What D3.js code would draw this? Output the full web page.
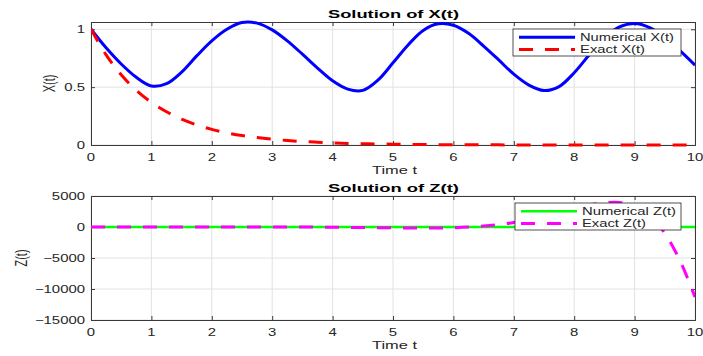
<!DOCTYPE html>
<html>
<head>
<meta charset="utf-8">
<script src="https://cdn.jsdelivr.net/npm/d3@7/dist/d3.min.js"></script>
<style>
  html, body { margin: 0; padding: 0; background: #fff; }
  svg { display: block; }
  text { font-family: "Liberation Sans", Arial, Helvetica, sans-serif; fill: #262626; }
</style>
</head>
<body>
<svg id="chart" width="703" height="356"></svg>
<script>
// ---------------- DATA ----------------
const timeSteps = [0, 0.25, 0.5, 0.75, 1, 1.25, 1.5, 1.75, 2, 2.25, 2.5, 2.75, 3, 3.25, 3.5, 3.75,
  4, 4.25, 4.5, 4.75, 5, 5.25, 5.5, 5.75, 6, 6.25, 6.5, 6.75, 7, 7.25, 7.5, 7.75,
  8, 8.25, 8.5, 8.75, 9, 9.25, 9.5, 9.75, 10];

const numericalX = [1.00, 0.84, 0.70, 0.585, 0.51, 0.53, 0.63, 0.77, 0.90, 1.00, 1.058, 1.053,
  0.995, 0.90, 0.785, 0.665, 0.555, 0.483, 0.472, 0.56, 0.71, 0.865, 0.99, 1.047, 1.035, 0.965,
  0.855, 0.735, 0.612, 0.518, 0.471, 0.505, 0.625, 0.78, 0.925, 1.02, 1.05, 1.015, 0.93, 0.815, 0.69];

const exactX = [1.00, 0.779, 0.607, 0.472, 0.368, 0.287, 0.223, 0.174, 0.135, 0.105, 0.082, 0.064,
  0.050, 0.039, 0.030, 0.024, 0.018, 0.014, 0.011, 0.009, 0.007, 0.005, 0.004, 0.003,
  0.0025, 0.002, 0.0015, 0.0012, 0.0009, 0.0007, 0.0006, 0.0004, 0.0003, 0.0003, 0.0002,
  0.0002, 0.0001, 0.0001, 0.0001, 0.0001, 0.0];

const numericalZ = [0, 0, 0, 0, 0, 0, 0, 0, 0, 0, 0, 0, 0, 0, 0, 0, 0, 0, 0, 0, 0,
  0, 0, 0, 0, 0, 0, 0, 0, 0, 0, 0, 0, 0, 0, 0, 0, 0, 0, 0, 0];

const exactZ = [0, 0.3, 0.8, 1.4, 2.3, 3.3, 4.5, 5.7, 6.7, 7.4, 7.3, 6.0, 2.8, -2.8, -11.6, -24.3,
  -41.3, -62.7, -88, -115.5, -142, -163.7, -173, -160, -113, -17, 143, 384, 720, 1159,
  1696, 2308, 2949, 3536, 3922, 3944, 3339, 1810, -1005, -5400, -11300];

const xTickValues = [0, 1, 2, 3, 4, 5, 6, 7, 8, 9, 10];
const xPlotYTicks = [0, 0.5, 1];
const zPlotYTicks = [-15000, -10000, -5000, 0, 5000];

const panelTitles = ["Solution of X(t)", "Solution of Z(t)"];
const xAxisLabel = "Time t";
const yAxisLabels = ["X(t)", "Z(t)"];
const legendLabelsX = ["Numerical X(t)", "Exact X(t)"];
const legendLabelsZ = ["Numerical Z(t)", "Exact Z(t)"];

// ---------------- LAYOUT ----------------
const svg = d3.select("#chart");
const SX = 1.42;          // horizontal text stretch of the reference
const FS = 10.5;
const left = 91, right = 695;
const dash = "14,12";

function stretchedText(g, str, x, y, anchor, opts = {}) {
  const t = g.append("text")
    .attr("transform", `translate(${x},${y}) scale(${SX},1)` + (opts.rotate ? " rotate(-90)" : ""))
    .attr("text-anchor", anchor)
    .style("font-size", (opts.size || FS) + "px")
    .text(str);
  return t;
}

function fmt(v) {
  const s = String(v);
  return s.replace("-", "\u2212");
}

function panel(cfg) {
  const g = svg.append("g");
  const x = d3.scaleLinear().domain([0, 10]).range([left, right]);
  const y = d3.scaleLinear().domain(cfg.yDomain).range([cfg.bottom, cfg.top]);

  // grid
  g.append("g").selectAll("line").data(xTickValues).join("line")
    .attr("x1", d => x(d)).attr("x2", d => x(d))
    .attr("y1", cfg.top).attr("y2", cfg.bottom)
    .attr("stroke", "#e2e2e2").attr("stroke-width", 1);
  g.append("g").selectAll("line").data(cfg.yTicks).join("line")
    .attr("x1", left).attr("x2", right)
    .attr("y1", d => y(d)).attr("y2", d => y(d))
    .attr("stroke", "#e2e2e2").attr("stroke-width", 1);

  // axes via d3 (inside ticks)
  const xAxisB = d3.axisBottom(x).tickValues(xTickValues).tickSize(-4).tickFormat("");
  const xAxisT = d3.axisTop(x).tickValues(xTickValues).tickSize(-4).tickFormat("");
  const yAxisL = d3.axisLeft(y).tickValues(cfg.yTicks).tickSize(-4).tickFormat("");
  const yAxisR = d3.axisRight(y).tickValues(cfg.yTicks).tickSize(-4).tickFormat("");
  [[xAxisB, `translate(0,${cfg.bottom})`], [xAxisT, `translate(0,${cfg.top})`],
   [yAxisL, `translate(${left},0)`], [yAxisR, `translate(${right},0)`]].forEach(([ax, tr]) => {
    const a = g.append("g").attr("transform", tr).call(ax);
    a.select(".domain").attr("stroke", "#3a3a3a").attr("stroke-width", 1);
    a.selectAll(".tick line").attr("stroke", "#3a3a3a");
  });

  // tick labels
  xTickValues.forEach(v => stretchedText(g, fmt(v), x(v), cfg.bottom + 16, "middle"));
  cfg.yTicks.forEach(v => stretchedText(g, fmt(v), left - 6, y(v) + 3.7, "end"));

  // lines
  const clipId = "clip" + cfg.id;
  svg.append("clipPath").attr("id", clipId).append("rect")
    .attr("x", left).attr("y", cfg.top - 2).attr("width", right - left).attr("height", cfg.bottom - cfg.top + 4);
  const line = d3.line().x((d, i) => x(timeSteps[i])).y(d => y(d)).curve(d3.curveCatmullRom);
  const lg = g.append("g").attr("clip-path", `url(#${clipId})`);
  lg.append("path").attr("d", line(cfg.series1)).attr("fill", "none")
    .attr("stroke", cfg.color1).attr("stroke-width", cfg.w1);
  lg.append("path").attr("d", line(cfg.series2)).attr("fill", "none")
    .attr("stroke", cfg.color2).attr("stroke-width", 3).attr("stroke-dasharray", dash);

  // title and labels
  g.append("text").attr("x", 393.5).attr("y", cfg.top - 3.7)
    .attr("text-anchor", "middle").style("font-size", "10.7px").style("font-weight", "bold")
    .style("fill", "#000")
    .attr("textLength", 131).attr("lengthAdjust", "spacingAndGlyphs")
    .text(cfg.title);
  g.append("text").attr("x", 394.5).attr("y", cfg.bottom + 29)
    .attr("text-anchor", "middle").style("font-size", "10.5px")
    .attr("textLength", 45).attr("lengthAdjust", "spacingAndGlyphs")
    .text(xAxisLabel);
  stretchedText(g, cfg.ylabel, cfg.ylabelX, (cfg.top + cfg.bottom) / 2, "middle", { rotate: true, size: 11 });

  // legend
  const lgd = g.append("g");
  lgd.append("rect").attr("x", cfg.legX).attr("y", cfg.legY).attr("width", 681 - cfg.legX).attr("height", 27)
    .attr("fill", "#fff").attr("stroke", "#262626").attr("stroke-width", 0.8);
  const rows = [cfg.legY + 8.3, cfg.legY + 20.6];
  lgd.append("line").attr("x1", cfg.legX + 6).attr("x2", cfg.legX + 62).attr("y1", rows[0]).attr("y2", rows[0])
    .attr("stroke", cfg.color1).attr("stroke-width", cfg.w1);
  lgd.append("line").attr("x1", cfg.legX + 6).attr("x2", cfg.legX + 62).attr("y1", rows[1]).attr("y2", rows[1])
    .attr("stroke", cfg.color2).attr("stroke-width", 3).attr("stroke-dasharray", dash);
  [0, 1].forEach(i => {
    lgd.append("text").attr("x", cfg.legX + 67).attr("y", rows[i] + 3.8)
      .style("font-size", "10.5px")
      .attr("textLength", cfg.legW[i]).attr("lengthAdjust", "spacingAndGlyphs")
      .text(cfg.legend[i]);
  });
}

panel({
  id: "x", top: 22, bottom: 145, yDomain: [0, 1.063], yTicks: xPlotYTicks,
  series1: numericalX, series2: exactX, color1: "#0000ff", color2: "#ff0000", w1: 3,
  title: panelTitles[0], ylabel: yAxisLabels[0], ylabelX: 55,
  legX: 513, legY: 29, legend: legendLabelsX, legW: [94, 65]
});
panel({
  id: "z", top: 196, bottom: 320, yDomain: [-15000, 5000], yTicks: zPlotYTicks,
  series1: numericalZ, series2: exactZ, color1: "#00ff00", color2: "#ff00ff", w1: 2.5,
  title: panelTitles[1], ylabel: yAxisLabels[1], ylabelX: 27,
  legX: 515, legY: 203, legend: legendLabelsZ, legW: [94, 64]
});
</script>
</body>
</html>
